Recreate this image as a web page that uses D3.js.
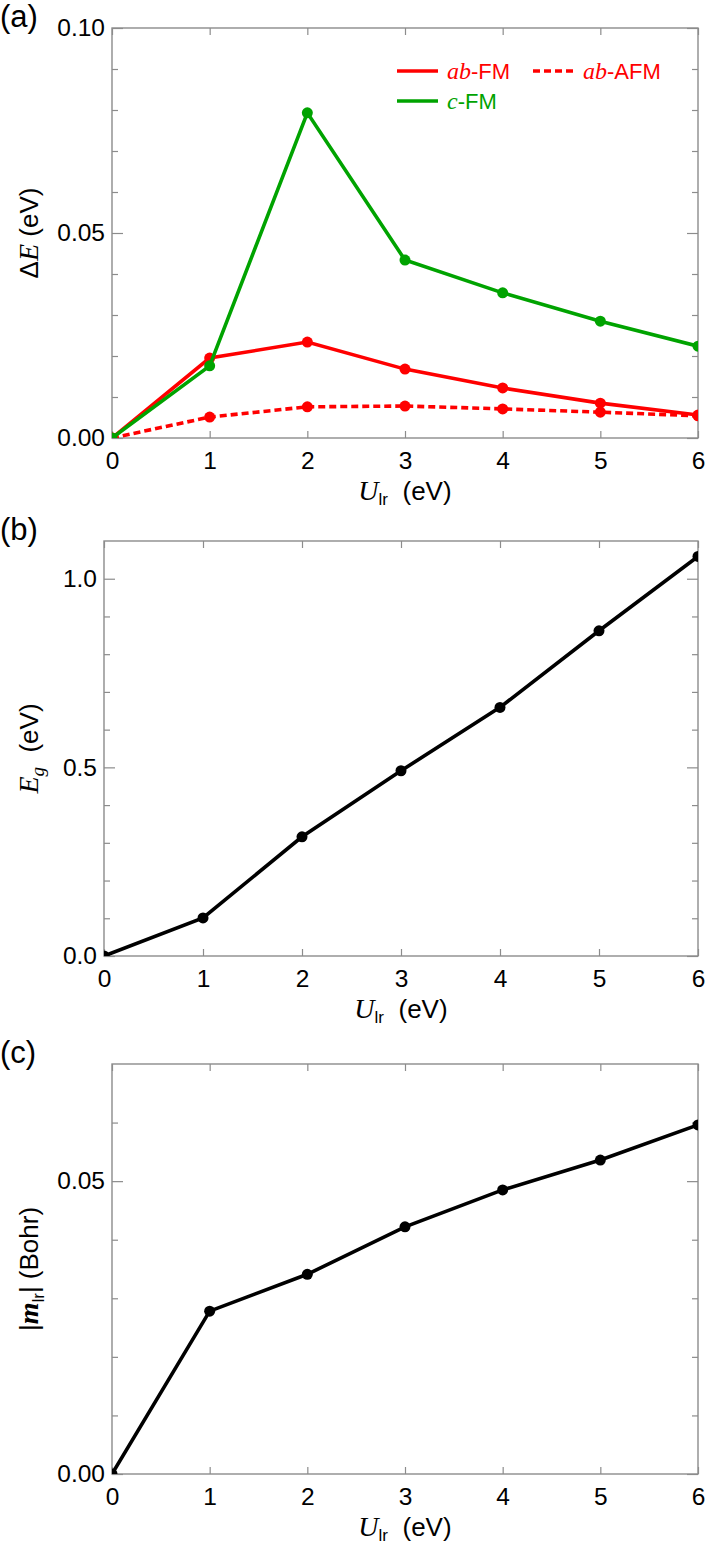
<!DOCTYPE html>
<html>
<head>
<meta charset="utf-8">
<script src="https://cdn.jsdelivr.net/npm/d3@7"></script>
<style>
  body { margin: 0; background: #fff; }
  svg { display: block; }
  .sans { font-family: "Liberation Sans", Arial, sans-serif; }
  .serif { font-family: "Liberation Serif", "Times New Roman", serif; }
</style>
</head>
<body>
<div id="wrapper"></div>
<script>
// data
const uValues = [0, 1, 2, 3, 4, 5, 6]
const abFM = [0, 0.0195, 0.0234, 0.0168, 0.0122, 0.0085, 0.0056]
const abAFM = [0, 0.0051, 0.0076, 0.0078, 0.0071, 0.0063, 0.0054]
const cFM = [0, 0.0176, 0.0793, 0.0434, 0.0354, 0.0285, 0.0224]
const gapValues = [0, 0.101, 0.316, 0.491, 0.659, 0.862, 1.059]
const momentValues = [0, 0.0278, 0.0341, 0.0422, 0.0485, 0.0536, 0.0596]

// tick values
const xTickValues = [0, 1, 2, 3, 4, 5, 6]
const aMajorTicks = [0, 0.05, 0.10]
const aMinorTicks = [0.01, 0.02, 0.03, 0.04, 0.06, 0.07, 0.08, 0.09]
const bMajorTicks = [0, 0.5, 1.0]
const bMinorTicks = [0.1, 0.2, 0.3, 0.4, 0.6, 0.7, 0.8, 0.9]
const cMajorTicks = [0, 0.05]
const cMinorTicks = [0.01, 0.02, 0.03, 0.04, 0.06]

const red = "#ff0000"
const green = "#00a300"
const frameColor = "#8c8c8c"

const svg = d3.select("#wrapper")
  .append("svg")
  .attr("width", 706)
  .attr("height", 1547)

function drawPanel(p) {
  const x = d3.scaleLinear().domain([0, 6]).range([p.left, p.right])
  const y = d3.scaleLinear().domain(p.yDomain).range([p.bottom, p.top])

  const g = svg.append("g")

  // clip for the data marks
  svg.append("clipPath").attr("id", "clip-" + p.id)
    .append("rect")
    .attr("x", p.left).attr("y", p.top)
    .attr("width", p.right - p.left).attr("height", p.bottom - p.top)

  // axes: ticks point inward
  const axes = [
    { gen: d3.axisLeft(y).tickValues(p.major).tickSizeInner(-11).tickSizeOuter(0).tickPadding(7).tickFormat(d3.format(p.fmt)), at: `translate(${p.left},0)` },
    { gen: d3.axisLeft(y).tickValues(p.minor).tickSizeInner(-6).tickSizeOuter(0).tickFormat(""), at: `translate(${p.left},0)` },
    { gen: d3.axisRight(y).tickValues(p.major).tickSizeInner(-11).tickSizeOuter(0).tickFormat(""), at: `translate(${p.right},0)` },
    { gen: d3.axisRight(y).tickValues(p.minor).tickSizeInner(-6).tickSizeOuter(0).tickFormat(""), at: `translate(${p.right},0)` },
    { gen: d3.axisBottom(x).tickValues(xTickValues).tickSizeInner(-7).tickSizeOuter(0).tickPadding(14).tickFormat(d3.format("d")), at: `translate(0,${p.bottom})` },
    { gen: d3.axisTop(x).tickValues(xTickValues).tickSizeInner(-7).tickSizeOuter(0).tickFormat(""), at: `translate(0,${p.top})` },
  ]
  axes.forEach(a => {
    const ax = g.append("g").attr("transform", a.at).call(a.gen)
    ax.select(".domain").remove()
    ax.selectAll("line").attr("stroke", frameColor).attr("stroke-width", 1.2)
    ax.selectAll("text")
      .attr("class", "sans")
      .attr("font-size", 24.5)
      .attr("fill", "#000")
  })

  g.append("rect")
    .attr("x", p.left).attr("y", p.top)
    .attr("width", p.right - p.left).attr("height", p.bottom - p.top)
    .attr("fill", "none")
    .attr("stroke", frameColor)
    .attr("stroke-width", 1.4)

  const marks = svg.append("g").attr("clip-path", `url(#clip-${p.id})`)
  const line = d3.line().x((d, i) => x(uValues[i])).y(d => y(d))
  p.series.forEach(s => {
    marks.append("path")
      .datum(s.values)
      .attr("d", line)
      .attr("fill", "none")
      .attr("stroke", s.color)
      .attr("stroke-width", 3.6)
      .attr("stroke-dasharray", s.dash || null)
    marks.selectAll(null)
      .data(s.values)
      .enter().append("circle")
      .attr("cx", (d, i) => x(uValues[i]))
      .attr("cy", d => y(d))
      .attr("r", 5.5)
      .attr("fill", s.color)
  })

  // x title
  const xt = svg.append("text")
    .attr("x", (p.left + p.right) / 2)
    .attr("y", p.bottom + 62)
    .attr("text-anchor", "middle")
    .attr("class", "sans")
    .attr("font-size", 26)
  xt.append("tspan").attr("class", "serif").attr("font-style", "italic").attr("font-size", 28).text("U")
  xt.append("tspan").attr("font-size", 17).attr("dy", 5).text("lr")
  xt.append("tspan").attr("dy", -5).text("\u00a0\u00a0(eV)")

  // y title
  const yt = svg.append("text")
    .attr("transform", `translate(38,${(p.top + p.bottom) / 2}) rotate(-90)`)
    .attr("text-anchor", "middle")
    .attr("class", "sans")
    .attr("font-size", 26)
  p.yTitle(yt)

  // panel letter
  svg.append("text")
    .attr("x", 0)
    .attr("y", p.top - 1)
    .attr("class", "sans")
    .attr("font-size", 31)
    .text(p.letter)
}

drawPanel({
  id: "a", letter: "(a)",
  left: 112, right: 698, top: 28, bottom: 438,
  yDomain: [0, 0.1], major: aMajorTicks, minor: aMinorTicks, fmt: ".2f",
  series: [
    { values: abFM, color: red },
    { values: abAFM, color: red, dash: "7,4" },
    { values: cFM, color: green },
  ],
  yTitle: t => {
    t.append("tspan").text("\u0394")
    t.append("tspan").attr("class", "serif").attr("font-style", "italic").attr("font-size", 28).text("E")
    t.append("tspan").text("\u00a0(eV)")
  },
})

drawPanel({
  id: "b", letter: "(b)",
  left: 104, right: 698, top: 541, bottom: 956,
  yDomain: [0, 1.1], major: bMajorTicks, minor: bMinorTicks, fmt: ".1f",
  series: [{ values: gapValues, color: "#000" }],
  yTitle: t => {
    t.append("tspan").attr("class", "serif").attr("font-style", "italic").attr("font-size", 28).text("E")
    t.append("tspan").attr("class", "serif").attr("font-style", "italic").attr("font-size", 19).attr("dy", 6).text("g")
    t.append("tspan").attr("dy", -6).text("\u00a0\u00a0(eV)")
  },
})

drawPanel({
  id: "c", letter: "(c)",
  left: 112, right: 698, top: 1064, bottom: 1474,
  yDomain: [0, 0.07], major: cMajorTicks, minor: cMinorTicks, fmt: ".2f",
  series: [{ values: momentValues, color: "#000" }],
  yTitle: t => {
    t.append("tspan").text("|")
    t.append("tspan").attr("class", "serif").attr("font-style", "italic").attr("font-weight", "bold").attr("font-size", 28).text("m")
    t.append("tspan").attr("font-size", 17).attr("dy", 6).text("lr")
    t.append("tspan").attr("dy", -6).text("|\u00a0(Bohr)")
  },
})

// legend of panel (a)
const legendItems = [
  { label: "ab", rest: "-FM", color: red, dash: null, x: 397, y: 71 },
  { label: "ab", rest: "-AFM", color: red, dash: "7,4", x: 533, y: 71 },
  { label: "c", rest: "-FM", color: green, dash: null, x: 397, y: 101 },
]
const legend = svg.append("g")
legend.selectAll("line")
  .data(legendItems)
  .enter().append("line")
  .attr("x1", d => d.x).attr("x2", d => d.x + 41)
  .attr("y1", d => d.y).attr("y2", d => d.y)
  .attr("stroke", d => d.color)
  .attr("stroke-width", 3.6)
  .attr("stroke-dasharray", d => d.dash)
legendItems.forEach(d => {
  const t = legend.append("text")
    .attr("x", d.x + 50)
    .attr("y", d.y + 8)
    .attr("class", "sans")
    .attr("font-size", 22)
    .attr("fill", d.color)
  t.append("tspan").attr("class", "serif").attr("font-style", "italic").attr("font-size", 24).text(d.label)
  t.append("tspan").text(d.rest)
})
</script>
</body>
</html>
